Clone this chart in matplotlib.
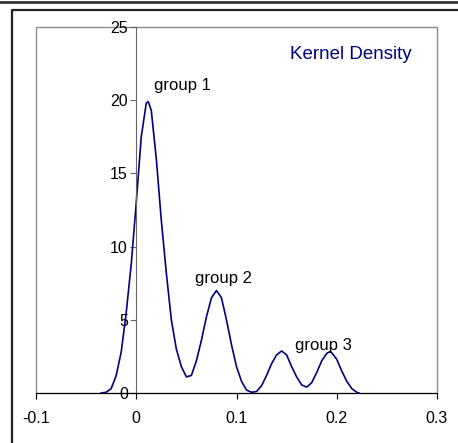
import matplotlib.pyplot as plt
from matplotlib.lines import Line2D
from matplotlib.patches import Rectangle

plt.rcParams['font.family'] = ['Liberation Sans', 'DejaVu Sans']

# kernel density curve
x_vals = [-0.035, -0.030, -0.025, -0.020, -0.015, -0.010, -0.005, 0.000, 0.005,
          0.010, 0.012, 0.015, 0.020, 0.025, 0.030, 0.035, 0.040, 0.045, 0.050,
          0.055, 0.060, 0.065, 0.070, 0.075, 0.080, 0.085, 0.090, 0.095, 0.100,
          0.105, 0.110, 0.115, 0.120, 0.125, 0.130, 0.135, 0.140, 0.145, 0.150,
          0.155, 0.160, 0.165, 0.170, 0.175, 0.180, 0.185, 0.190, 0.193, 0.195,
          0.200, 0.205, 0.210, 0.215, 0.220, 0.222]
density = [0.0, 0.05, 0.3, 1.2, 2.8, 5.5, 8.8, 13.0, 17.5,
           19.8, 19.9, 19.3, 16.0, 11.8, 8.2, 5.0, 3.0, 1.8, 1.1,
           1.2, 2.2, 3.6, 5.2, 6.5, 7.0, 6.5, 5.0, 3.3, 1.8,
           0.8, 0.2, 0.05, 0.1, 0.5, 1.2, 2.0, 2.6, 2.87, 2.6,
           1.8, 1.1, 0.55, 0.4, 0.7, 1.4, 2.2, 2.7, 2.82, 2.75,
           2.3, 1.5, 0.8, 0.3, 0.05, 0.0]

x_ticks = [-0.1, 0, 0.1, 0.2, 0.3]
x_labels = ['-0.1', '0', '0.1', '0.2', '0.3']
y_ticks = [0, 5, 10, 15, 20, 25]

group_names = ['group 1', 'group 2', 'group 3']
group_x = [0.046, 0.087, 0.187]
group_y = [20.97, 7.8, 3.23]

W, H = 458, 443
fig = plt.figure(figsize=(W / 100, H / 100), dpi=100)

# outer chart frame (cut off at right/bottom) and the line above it
fig.add_artist(Line2D([0, 1], [1 - 2 / H, 1 - 2 / H], color='#333333', lw=2))
fig.add_artist(Line2D([12 / W, 12 / W, 1.0], [0, 1 - 10 / H, 1 - 10 / H],
                      color='#222222', lw=1.6))

ax = fig.add_axes([36 / W, 50 / H, 401 / W, 366 / H])
ax.set_xlim(-0.1, 0.3)
ax.set_ylim(0, 25)

# gray plot-area border
ax.add_patch(Rectangle((0, 0), 1, 1, transform=ax.transAxes, fill=False,
                       edgecolor='#8c8c8c', lw=1, zorder=0.5, clip_on=False))

ax.plot(x_vals, density, color='#000080', lw=1.2)

for name, gx, gy in zip(group_names, group_x, group_y):
    ax.text(gx, gy, name, ha='center', va='center', fontsize=12)
ax.text(0.214, 23.1, 'Kernel Density', ha='center', va='center',
        fontsize=13.5, color='#000080')

ax.spines['top'].set_visible(False)
ax.spines['right'].set_visible(False)
ax.spines['left'].set_position(('data', 0))
ax.spines['left'].set_color('#666666')
ax.spines['bottom'].set_color('black')

ax.set_xticks(x_ticks)
ax.set_xticklabels(x_labels)
ax.set_yticks(y_ticks)
ax.tick_params(axis='x', direction='out', length=4, labelsize=11.5, pad=9)
ax.tick_params(axis='y', direction='out', length=4, labelsize=11.5, pad=2,
               color='#666666')

fig.savefig('out.png', dpi=100)
